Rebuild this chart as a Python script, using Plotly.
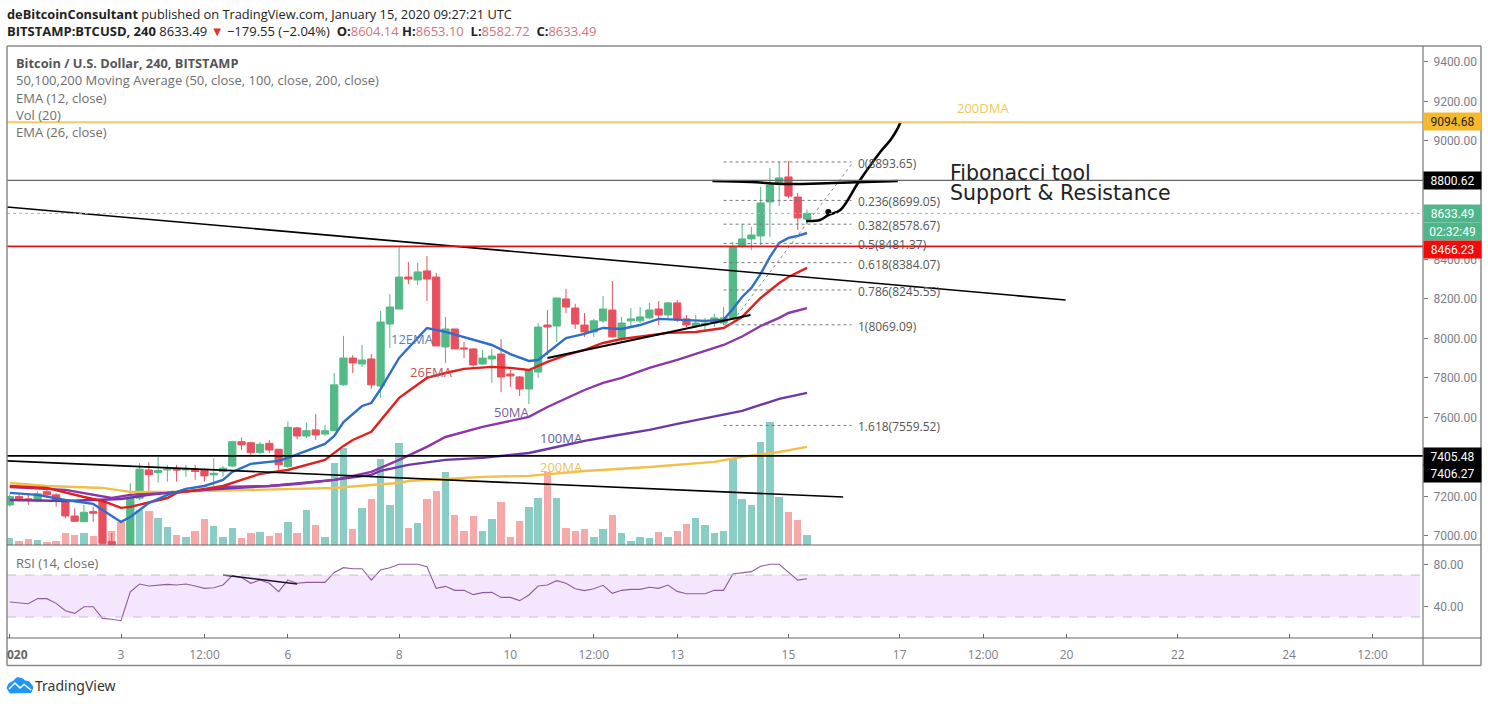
import pandas as pd
import plotly.graph_objects as go

W, H = 1488, 704

# candles, 4h bars, index 0 = Jan 3 00:00, first bar is index -12
first_bar = -12
candle_open = [7157, 7199, 7188, 7177, 7224, 7208, 7174, 7101, 7072, 7123, 7174, 6971, 6950, 6900, 7191, 7334, 7320, 7334, 7339, 7334, 7339, 7331, 7309, 7326, 7354, 7477, 7472, 7422, 7469, 7439, 7351, 7547, 7506, 7537, 7516, 7533, 7765, 7901, 7871, 7896, 7759, 8073, 8149, 8311, 8296, 8342, 8311, 7957, 8048, 7952, 7947, 7871, 7896, 7921, 7820, 7805, 7744, 7830, 8068, 8063, 8200, 8154, 8068, 8033, 8089, 8144, 8003, 8089, 8089, 8104, 8149, 8119, 8180, 8099, 8063, 8068, 8078, 8078, 8104, 8468, 8504, 8519, 8691, 8787, 8818, 8716, 8604.14]
candle_high = [7211, 7208, 7208, 7224, 7241, 7216, 7182, 7140, 7157, 7148, 7182, 7014, 6952, 7267, 7368, 7373, 7401, 7360, 7360, 7360, 7360, 7343, 7393, 7354, 7482, 7498, 7477, 7477, 7486, 7439, 7579, 7553, 7574, 7618, 7562, 7825, 8013, 7916, 7967, 7921, 8139, 8225, 8463, 8387, 8382, 8418, 8332, 8109, 8048, 7982, 7952, 7942, 7947, 7997, 7840, 7810, 7845, 8078, 8144, 8205, 8251, 8175, 8129, 8099, 8215, 8291, 8109, 8154, 8159, 8180, 8190, 8185, 8195, 8119, 8119, 8104, 8124, 8159, 8489, 8580, 8565, 8767, 8863, 8894, 8899, 8737, 8653.10]
candle_low = [7148, 7174, 7157, 7174, 7191, 7148, 7090, 7072, 7072, 7072, 6959, 6900, 6860, 6870, 7182, 7224, 7270, 7275, 7275, 7300, 7284, 7275, 7253, 7300, 7348, 7435, 7410, 7415, 7419, 7331, 7343, 7490, 7495, 7486, 7506, 7530, 7760, 7825, 7856, 7744, 7699, 7952, 8149, 8276, 8271, 8190, 7962, 7876, 7947, 7901, 7856, 7866, 7775, 7729, 7754, 7709, 7668, 7800, 7916, 7982, 8129, 8048, 8008, 8008, 8078, 8003, 7982, 8053, 8078, 8099, 8068, 8094, 8083, 8058, 8053, 8043, 8058, 8068, 8104, 8458, 8448, 8473, 8514, 8671, 8711, 8549, 8582.72]
candle_close = [7199, 7186, 7184, 7213, 7208, 7182, 7101, 7074, 7120, 7115, 6963, 6954, 6890, 7196, 7338, 7310, 7331, 7339, 7334, 7339, 7326, 7304, 7317, 7343, 7477, 7461, 7422, 7464, 7435, 7360, 7550, 7506, 7533, 7511, 7533, 7765, 7901, 7876, 7891, 7765, 8083, 8159, 8311, 8301, 8337, 8301, 7962, 8048, 7947, 7947, 7866, 7901, 7911, 7805, 7810, 7744, 7840, 8058, 8058, 8205, 8159, 8073, 8033, 8089, 8149, 8008, 8078, 8099, 8109, 8144, 8119, 8180, 8094, 8068, 8078, 8078, 8104, 8104, 8463, 8504, 8524, 8686, 8777, 8813, 8721, 8610, 8633.49]
volume = [73, 43, 63, 50, 30, 40, 123, 103, 117, 93, 450, 143, 233, 470, 350, 340, 267, 177, 100, 83, 143, 257, 193, 83, 173, 70, 123, 133, 93, 123, 227, 117, 350, 197, 83, 817, 967, 157, 367, 463, 857, 400, 1017, 173, 223, 463, 543, 730, 300, 140, 290, 140, 257, 433, 83, 240, 383, 473, 733, 473, 173, 140, 157, 83, 157, 300, 123, 40, 83, 73, 133, 83, 140, 207, 267, 200, 117, 143, 857, 457, 400, 1027, 1233, 483, 330, 250, 100]
rsi = [44.3, 43.6, 42.7, 47.5, 47.5, 43, 36, 33.5, 39.8, 39.8, 28.7, 27.8, 26.5, 54.1, 61.4, 59.5, 60.2, 61.1, 60.5, 61.4, 59.5, 57.3, 57.9, 60.5, 69.4, 67.5, 62.1, 65.2, 62.1, 54.1, 65.2, 62.1, 63, 62.7, 63, 72.5, 77, 76, 76, 65.2, 74.8, 77, 80.2, 80.2, 80.2, 77.9, 57.3, 59.2, 55.4, 55.4, 51.3, 53.2, 53.5, 48.7, 48.7, 45.6, 51, 59.5, 60.5, 64.6, 62.1, 57, 55.1, 57, 60.2, 52.5, 55.4, 56.3, 56.3, 58.3, 57.3, 60.5, 54.4, 52.2, 52.2, 52.2, 55.4, 55.4, 71, 72.2, 73.2, 78.3, 80.2, 80.2, 72.5, 65.2, 66.5]

# indicator lines, read at the bars where they bend
ema12_bar = [-12, -9, -6, -3, -1, 0, 1, 3, 5, 7, 9, 11, 12, 14, 17, 18, 22, 23, 24, 26, 27, 28, 30, 33, 35, 37, 40, 42, 44, 45, 46, 48, 50, 52, 54, 56, 58, 60, 63, 65, 66, 67, 68, 69, 70, 71, 72, 73, 74]
ema12 = [7218, 7208, 7182, 7162, 7101, 7071, 7096, 7167, 7208, 7238, 7253, 7284, 7324, 7365, 7380, 7395, 7466, 7506, 7577, 7658, 7673, 7744, 7901, 8053, 8033, 8008, 7967, 7921, 7886, 7891, 7927, 8002, 8023, 8053, 8048, 8068, 8099, 8094, 8089, 8094, 8149, 8210, 8256, 8327, 8413, 8484, 8509, 8519, 8534]
ema26_bar = [-12, -8, -4, -2, 0, 1, 5, 6, 9, 11, 13, 15, 18, 22, 24, 25, 27, 30, 33, 35, 37, 40, 42, 44, 46, 48, 50, 52, 54, 56, 59, 62, 65, 67, 69, 71, 72, 74]
ema26 = [7253, 7243, 7197, 7177, 7142, 7147, 7192, 7218, 7238, 7253, 7284, 7314, 7334, 7385, 7456, 7486, 7527, 7699, 7800, 7825, 7846, 7856, 7851, 7840, 7881, 7916, 7942, 7977, 7997, 8008, 8028, 8033, 8053, 8109, 8205, 8281, 8311, 8357]
ma50_bar = [-12, -6, -1, 1, 5, 9, 11, 16, 19, 23, 27, 30, 33, 35, 39, 44, 46, 50, 52, 54, 57, 60, 64, 65, 67, 69, 71, 72, 74]
ma50 = [7248, 7233, 7192, 7208, 7218, 7233, 7248, 7253, 7263, 7284, 7324, 7385, 7451, 7501, 7552, 7603, 7653, 7739, 7775, 7800, 7851, 7891, 7952, 7967, 8010, 8063, 8104, 8129, 8154]
ma100_bar = [-12, -6, 0, 3, 5, 9, 16, 23, 27, 28, 31, 35, 39, 44, 46, 50, 53, 57, 60, 64, 67, 71, 74]
ma100 = [7182, 7177, 7187, 7208, 7218, 7233, 7253, 7284, 7309, 7329, 7360, 7385, 7395, 7420, 7440, 7481, 7506, 7537, 7567, 7603, 7633, 7694, 7724]
ma200_bar = [-12, -8, -2, 1, 5, 9, 18, 23, 27, 30, 31, 39, 44, 50, 57, 64, 67, 71, 74]
ma200 = [7268, 7253, 7243, 7223, 7223, 7228, 7238, 7243, 7258, 7268, 7278, 7299, 7304, 7329, 7349, 7375, 7400, 7425, 7451]

# drawings
trend1_bar, trend1 = [-12.3, 101.9], [8666, 8195]
trend2_bar, trend2 = [-12.3, 77.9], [7380, 7197]
trend3_bar, trend3 = [46, 67.9], [7901, 8119]
sketch_sr_bar = [63.8, 67.9, 71.8, 76.8, 83.8]
sketch_sr = [8797, 8792, 8782, 8787, 8797]
sketch_up_bar = [73.9, 75.4, 76.3, 77.6, 79.5, 81.9, 83, 83.7, 84.1]
sketch_up = [8595, 8600, 8625, 8651, 8787, 8944, 9005, 9056, 9096]
rsi_sketch_bar = [11, 19]
rsi_sketch = [70, 61.4]

fib_ratio = ["0", "0.236", "0.382", "0.5", "0.618", "0.786", "1", "1.618"]
fib_price = [8893.65, 8699.05, 8578.67, 8481.37, 8384.07, 8245.55, 8069.09, 7559.52]

tick_bars = [-12, 0, 9, 18, 30, 42, 51, 60, 72, 84, 93, 102, 114, 126, 135]
tick_text = ["", "3", "12:00", "6", "8", "10", "12:00", "13", "15", "17", "12:00", "20", "22", "24", "12:00"]
# 7400, 8600 and 8800 sit under the price tags in the picture
price_ticks = [7000, 7200, 7400, 7600, 7800, 8000, 8200, 8400, 8600, 8800, 9000, 9200, 9400]
price_tick_text = ["7000.00", "7200.00", "", "7600.00", "7800.00", "8000.00", "8200.00", "8400.00", "", "", "9000.00", "9200.00", "9400.00"]
rsi_ticks = [40, 80]
rsi_tick_text = ["40.00", "80.00"]

GREEN, RED = "#53B987", "#E9505F"
VOL_GREEN, VOL_RED = "#8ACDC5", "#F6A9A8"
GRAY_TXT = "#7B7E88"
FONT = "Open Sans"
NUM_FONT = "Roboto"


def t(k):
    return pd.Timestamp("2020-01-03") + pd.to_timedelta(k * 4, unit="h")


def times(bars):
    return [t(k).strftime("%Y-%m-%d %H:%M:%S") for k in bars]


def px(x):
    return x / W


def py(y):
    return 1 - y / H


bars = list(range(first_bar, first_bar + len(candle_open)))
bar_ms = 4 * 3600 * 1000

fig = go.Figure()

# volume sits on the base axis so the candles end up over it
vol_colors = [VOL_GREEN if c >= o else VOL_RED for o, c in zip(candle_open, candle_close)]
fig.add_trace(go.Bar(x=times(bars), y=volume, marker_color=vol_colors, marker_line_width=0,
                     width=0.8 * bar_ms, yaxis="y"))

fig.add_trace(go.Candlestick(x=times(bars), open=candle_open, high=candle_high, low=candle_low, close=candle_close,
                             yaxis="y2", whiskerwidth=0,
                             increasing=dict(line=dict(color=GREEN, width=1), fillcolor=GREEN),
                             decreasing=dict(line=dict(color=RED, width=1), fillcolor=RED)))


def add_line(bar_list, values, color, width=2, axis="y2", dash="solid", shape="linear"):
    fig.add_trace(go.Scatter(x=times(bar_list), y=values, mode="lines", yaxis=axis,
                             line=dict(color=color, width=width, dash=dash, shape=shape)))


add_line(ma200_bar, ma200, "#F2BF4A", 2.4)
add_line(ma100_bar, ma100, "#6C38A8", 2.4)
add_line(ma50_bar, ma50, "#8E36A9", 2.4)
add_line(ema26_bar, ema26, "#E0201E", 2.4)
add_line(ema12_bar, ema12, "#2D6EC8", 2.4)

# fibonacci levels
fib_start, fib_end = 65, 78.8
for price in fib_price:
    add_line([fib_start, fib_end], [price, price], "#777777", 1, dash="dot")
add_line([65.7, 79], [8069.09, 8893.65], "#888888", 1, dash="dot")

add_line(trend1_bar, trend1, "#000000", 1.6)
add_line(trend2_bar, trend2, "#000000", 1.6)
add_line(trend3_bar, trend3, "#000000", 2)
add_line(sketch_sr_bar, sketch_sr, "#000000", 2.6, shape="spline")
add_line(sketch_up_bar, sketch_up, "#000000", 2.6, shape="spline")
fig.add_trace(go.Scatter(x=times([76.3]), y=[8640], mode="markers", yaxis="y2",
                         marker=dict(color="#000000", size=6)))

add_line(bars, rsi, "#8E5C9E", 1.1, axis="y3")
add_line(rsi_sketch_bar, rsi_sketch, "#1A1030", 1.6, axis="y3")

shapes = []


def hline(value, color, width, dash="solid"):
    shapes.append(dict(type="line", xref="x domain", yref="y2", x0=0, x1=1, y0=value, y1=value,
                       line=dict(color=color, width=width, dash=dash)))


hline(9094.68, "#F0CB6A", 2)
hline(8800.62, "#666666", 1.2)
hline(8633.49, "#7CC8B4", 1, "dot")
hline(8466.23, "#E0141C", 1.6)
hline(7405.48, "#000000", 1.8)

# rsi band
shapes.append(dict(type="rect", xref="paper", yref="y3", x0=px(7), x1=px(1420), y0=30, y1=70,
                   fillcolor="#F4E7FD", line_width=0, layer="below"))
for level in [70, 30]:
    shapes.append(dict(type="line", xref="paper", yref="y3", x0=px(7), x1=px(1420), y0=level, y1=level,
                       line=dict(color="#C8BCD0", width=1, dash="dash")))


def frame_line(x0, y0, x1, y1, color="#8A8A8A", width=1.5):
    shapes.append(dict(type="line", xref="paper", yref="paper", x0=px(x0), x1=px(x1), y0=py(y0), y1=py(y1),
                       line=dict(color=color, width=width)))


frame_line(7, 46, 1481, 46)
frame_line(7, 46, 7, 665.5)
frame_line(1481, 46, 1481, 665.5)
frame_line(7, 665.5, 1481, 665.5)
frame_line(1423, 46, 1423, 665.5, "#777777", 1.2)
frame_line(7, 545, 1481, 545, "#666666", 1)
frame_line(7, 638, 1481, 638, "#666666", 1)

# tradingview logo
cloud = [(7, 688), (9, 683.5), (13, 681.5), (17, 677.5), (22, 678.5), (25, 681), (29, 681.5), (33, 687), (31, 692.5), (10, 693)]
wave = [(9, 689), (15, 683), (20, 688), (24, 684.5), (31, 690)]
path = "M" + " L".join(f"{px(a):.5f},{py(b):.5f}" for a, b in cloud) + " Z"
shapes.append(dict(type="path", xref="paper", yref="paper", path=path, fillcolor="#2196F3", line=dict(color="#2196F3", width=1)))
path = "M" + " L".join(f"{px(a):.5f},{py(b):.5f}" for a, b in wave)
shapes.append(dict(type="path", xref="paper", yref="paper", path=path, line=dict(color="#FFFFFF", width=1.5)))

notes = []


def text_px(x, y, text, size=13, color="#333333", family=FONT, anchor="left"):
    notes.append(dict(xref="paper", yref="paper", x=px(x), y=py(y), text=text, showarrow=False, xanchor=anchor,
                      yanchor="middle", font=dict(size=size, color=color, family=family), align="left",
                      borderpad=0, borderwidth=0))


def pink(s):
    return f'<span style="color:#D4737B">{s}</span>'


text_px(7, 14, "<b>deBitcoinConsultant</b> published on TradingView.com, January 15, 2020 09:27:21 UTC", 12.8, "#222222")
text_px(7, 31, "<b>BITSTAMP:BTCUSD, 240</b> 8633.49 <span style=\"color:#E8332A\">▼</span> −179.55 (−2.04%)&nbsp; "
        + "<b>O:</b>" + pink("8604.14") + " <b>H:</b>" + pink("8653.10") + "&nbsp; <b>L:</b>" + pink("8582.72")
        + "&nbsp; <b>C:</b>" + pink("8633.49"), color="#222222")

text_px(16, 63, "<b>Bitcoin / U.S. Dollar, 240, BITSTAMP</b>", 12.8, "#555555")
text_px(16, 80, "50,100,200 Moving Average (50, close, 100, close, 200, close)", 13, "#6E6E6E")
text_px(16, 98, "EMA (12, close)", 13, "#6E6E6E")
text_px(16, 115, "Vol (20)", 13, "#6E6E6E")
text_px(16, 132, "EMA (26, close)", 13, "#6E6E6E")
text_px(16, 563, "RSI (14, close)", 13, "#6E6E6E")

text_px(391, 339, "12EMA", 13, "#5E7FBA")
text_px(410, 372, "26EMA", 13, "#BE5A5A")
text_px(494, 412, "50MA", 13, "#7C5F9C")
text_px(540, 438, "100MA", 13, "#6A5CA2")
text_px(540, 467, "200MA", 13, "#E8C45A")
text_px(957, 108, "200DMA", 13, "#EFC95A")
text_px(950, 173, "Fibonacci tool", 20.5, "#222222", "DejaVu Sans")
text_px(950, 193, "Support & Resistance", 20.5, "#222222", "DejaVu Sans")
text_px(7, 654, "<b>020</b>", 12, "#666666")
text_px(35, 685, "TradingView", 14, "#333333", "Noto Sans")

# fib labels sit right of the levels
for ratio, price in zip(fib_ratio, fib_price):
    notes.append(dict(xref="paper", yref="y2", x=px(856.5), y=price, yshift=-1.5, text=f"{ratio}({price:.2f})", showarrow=False,
                      xanchor="left", yanchor="middle", font=dict(size=12, color="#555555", family=FONT)))


def price_tag(y, text, bg, fg="#FFFFFF"):
    notes.append(dict(xref="paper", yref="paper", x=px(1452), y=py(y), text=text, showarrow=False, xanchor="center",
                      yanchor="middle", width=57, height=17, bgcolor=bg, borderpad=0,
                      font=dict(size=12, color=fg, family=NUM_FONT)))


price_tag(121.5, "9094.68", "#F5B92E", "#222222")
price_tag(180.5, "8800.62", "#000000")
price_tag(213.5, "8633.49", "#4FB58A")
price_tag(231.5, "02:32:49", "#4FB58A")
price_tag(249.5, "8466.23", "#F20A0A")
price_tag(456, "7405.48", "#000000")
price_tag(473.5, "7406.27", "#000000")

fig.update_layout(
    width=W, height=H, autosize=False, showlegend=False, hovermode=False,
    margin=dict(l=0, r=0, t=0, b=0), paper_bgcolor="#FFFFFF", plot_bgcolor="#FFFFFF",
    font=dict(family=FONT, color=GRAY_TXT, size=12),
    shapes=shapes, annotations=notes, bargap=0, boxgap=0.22, boxgroupgap=0,
    xaxis=dict(type="date", domain=[px(7), px(1423)], range=times([-12.3, 140.45]), anchor="y3",
               rangeslider=dict(visible=False), showgrid=False, zeroline=False, showline=False,
               tickmode="array", tickvals=times(tick_bars), ticktext=tick_text,
               ticks="inside", ticklen=4, tickcolor="#666666", ticklabelstandoff=8),
    yaxis=dict(domain=[py(545), py(46)], range=[0, 4990], visible=False, fixedrange=True),
    yaxis2=dict(domain=[py(545), py(46)], range=[6954, 9481], overlaying="y", side="right", anchor="x",
                tickmode="array", tickvals=price_ticks, ticktext=price_tick_text, ticks="outside", ticklen=4,
                tickfont=dict(family=NUM_FONT, size=12),
                tickcolor="#777777", showgrid=False, zeroline=False, ticklabelstandoff=3),
    yaxis3=dict(domain=[py(638), py(545)], range=[10, 98.6], side="right", anchor="x",
                tickmode="array", tickvals=rsi_ticks, ticktext=rsi_tick_text, ticks="outside", ticklen=4,
                tickfont=dict(family=NUM_FONT, size=12),
                tickcolor="#777777", showgrid=False, zeroline=False, ticklabelstandoff=3),
)

fig.write_html("out.html", config=dict(displayModeBar=False), post_script="document.body.style.margin='0';")
